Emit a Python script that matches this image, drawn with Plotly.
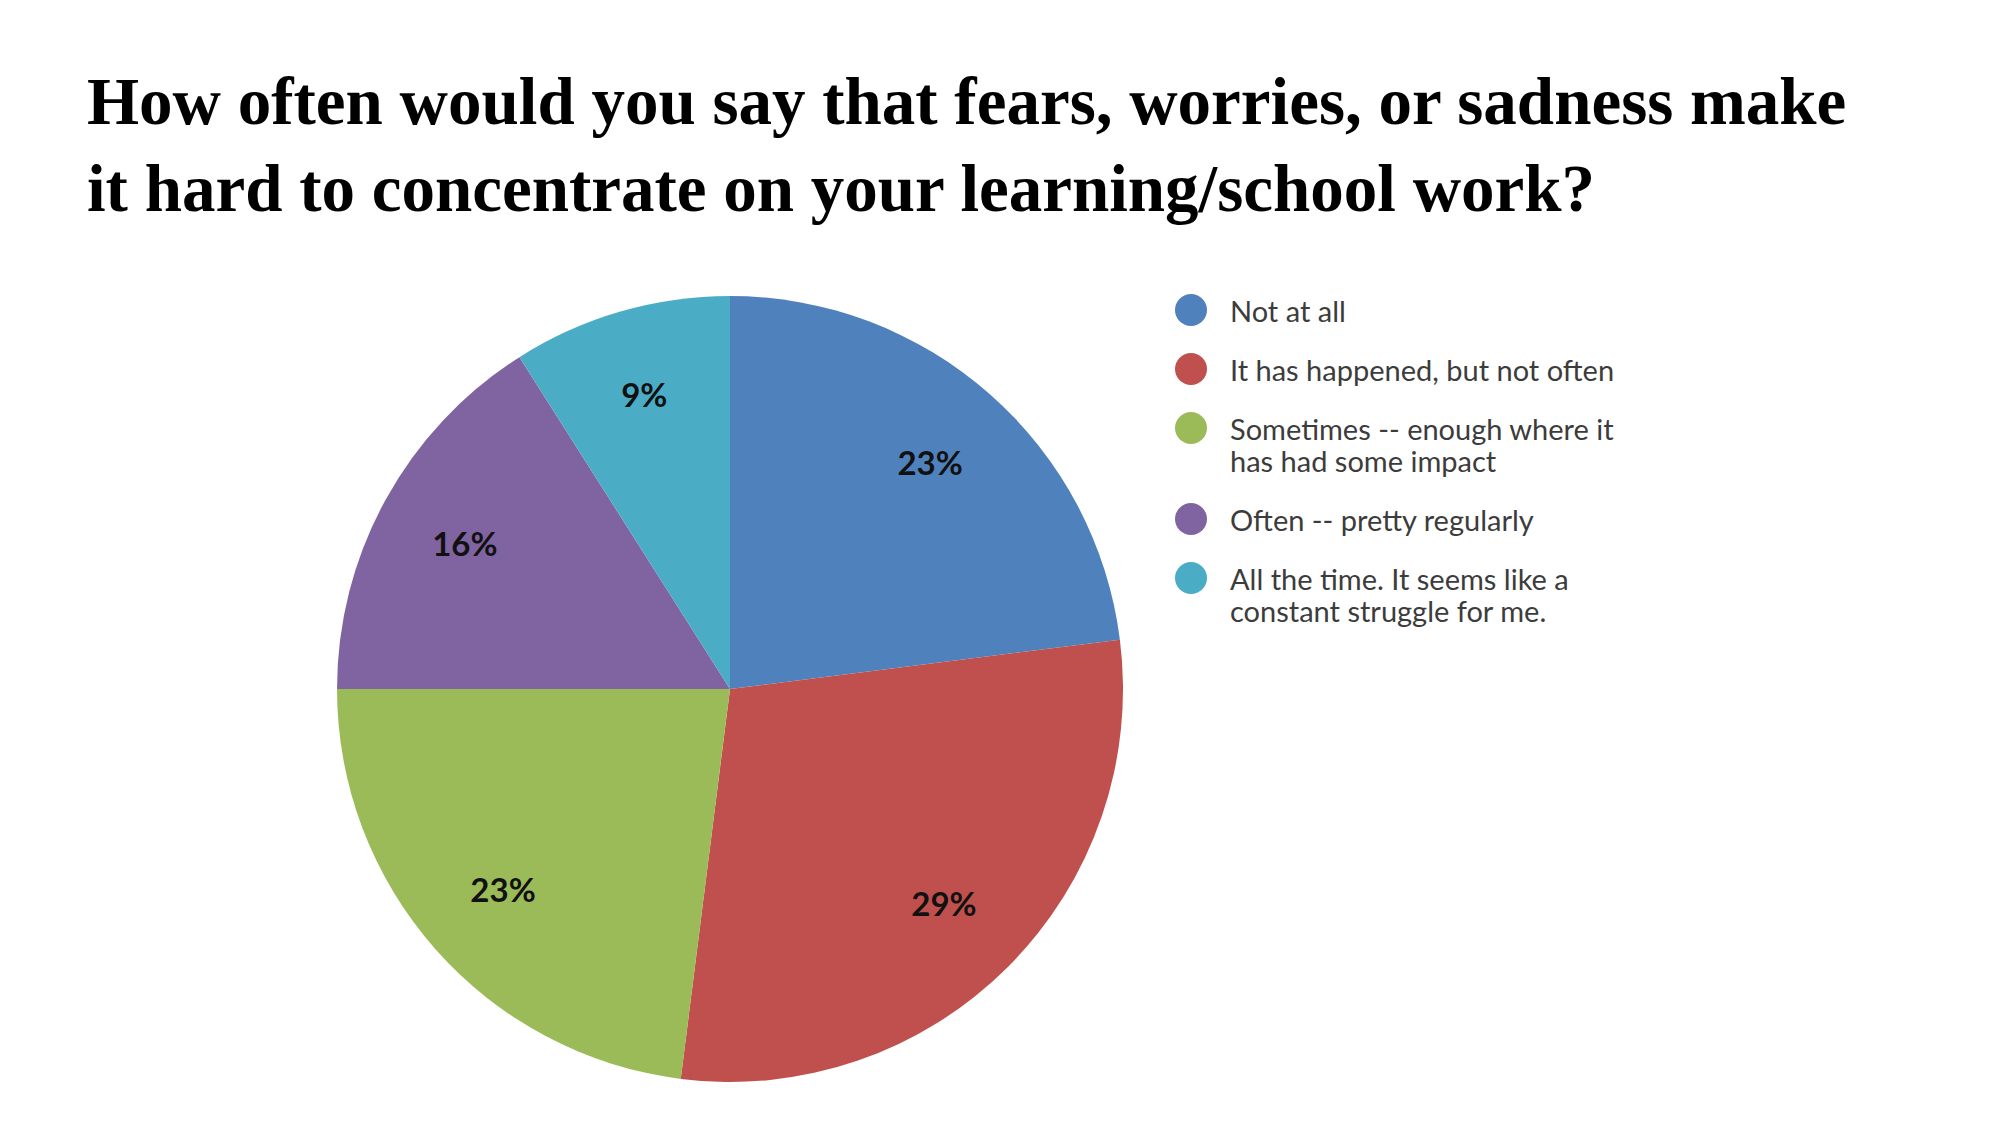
import plotly.graph_objects as go

# survey answers, clockwise from 12 o'clock
answers = ['Not at all',
           'It has happened, but not often',
           'Sometimes -- enough where it<br>has had some impact',
           'Often -- pretty regularly',
           'All the time. It seems like a<br>constant struggle for me.']
shares = [23, 29, 23, 16, 9]
colours = ['#4F81BD', '#C0504D', '#9BBB59', '#8064A2', '#4BACC6']

title = ('How often would you say that fears, worries, or sadness make<br>'
         'it hard to concentrate on your learning/school work?')

W, H = 2000, 1125
OFF = 8   # page body margin in the browser

fig = go.Figure()

# pie: centre (730, 689) px, radius 393 px
cx, cy, r = 730 - OFF, 689 - OFF, 393
dom = dict(x=[(cx - r) / W, (cx + r) / W],
           y=[(H - cy - r) / H, (H - cy + r) / H])
plain = [a.replace('<br>', ' ') for a in answers]
fig.add_trace(go.Pie(
    values=shares, labels=plain,
    marker=dict(colors=colours, line=dict(width=0)),
    sort=False, direction='clockwise', rotation=0,
    textinfo='none', domain=dom,
    showlegend=False, hoverinfo='label+percent'))
# transparent ring on top just to carry the percentage labels further out
fig.add_trace(go.Pie(
    values=shares, labels=plain, hole=0.54,
    marker=dict(colors=['rgba(0,0,0,0)'] * len(shares), line=dict(width=0)),
    sort=False, direction='clockwise', rotation=0,
    texttemplate='<b>%{percent:.0%}</b>', textposition='inside',
    insidetextorientation='horizontal',
    textfont=dict(family='Lato', size=33, color='#111111'),
    domain=dom, showlegend=False, hoverinfo='skip'))

# legend drawn as a scatter on its own pixel-scaled axes
lx0, ly0 = 1100 - OFF, 250 - OFF      # top-left of legend box, px
step, lineh = 59, 32
ys, pos = [], 60
for a in answers:
    ys.append(pos)
    pos += step + a.count('<br>') * lineh
fig.add_trace(go.Scatter(
    x=[91] * len(answers), y=ys, mode='markers',
    marker=dict(size=32, color=colours),
    xaxis='x2', yaxis='y2', showlegend=False, hoverinfo='skip'))
for a, y in zip(answers, ys):
    for k, line in enumerate(a.split('<br>')):
        fig.add_annotation(x=128, y=y + k * lineh, xref='x2', yref='y2',
                           text=line, showarrow=False,
                           xanchor='left', yanchor='middle',
                           font=dict(family='Lato', size=29, color='#3c3c3c'))

fig.update_layout(
    width=W, height=H, margin=dict(l=0, r=0, t=0, b=0),
    paper_bgcolor='white', plot_bgcolor='white',
    title=dict(text='<b>' + title + '</b>', x=79 / W, xanchor='left',
               y=1 - 116 / H, yanchor='top',
               font=dict(family='Liberation Serif', size=67, color='black')),
    xaxis2=dict(domain=[lx0 / W, (lx0 + 800) / W], range=[0, 800],
                visible=False, fixedrange=True),
    yaxis2=dict(domain=[(H - ly0 - 400) / H, (H - ly0) / H], range=[400, 0],
                visible=False, fixedrange=True),
)

fig.write_html('out.html')
